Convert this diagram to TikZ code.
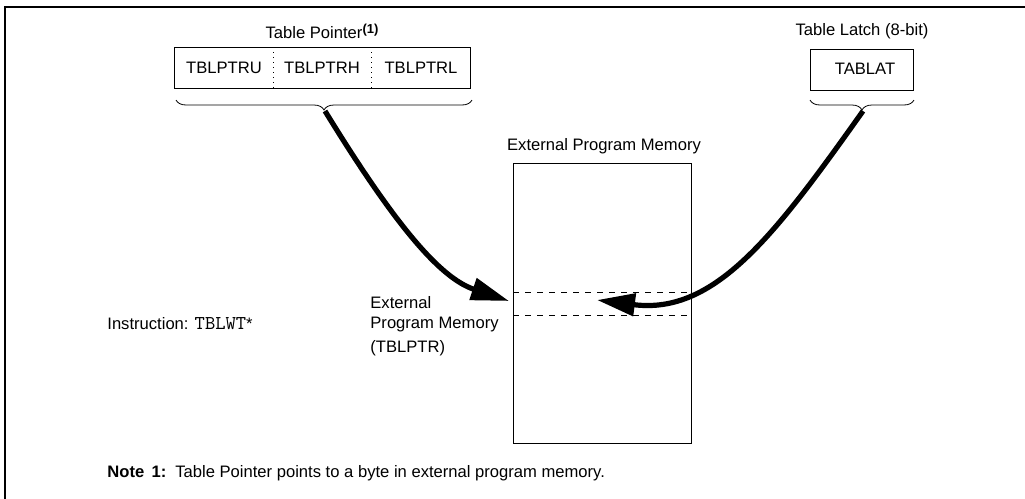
\documentclass[tikz,border=0pt]{standalone}
\usepackage{fontspec}
\setmainfont{Liberation Sans}
\usetikzlibrary{arrows.meta,decorations.pathreplacing}

\tikzset{
  lbl/.style={font=\fontsize{8.3}{10}\selectfont, inner sep=0pt},
  regbox/.style={draw, line width=0.5pt},
  bracebar/.style={decorate, decoration={brace,mirror,amplitude=5pt}, line width=0.4pt},
  flow/.style={line width=2.6pt, -{Triangle[length=19pt,width=11pt]}}
}

\begin{document}
\begin{tikzpicture}[x=0.5pt,y=-0.5pt]
        \useasboundingbox (0,0) rectangle (1025,499);

        % Frame
        \draw[line width=1pt] (5,500) -- (5,7) -- (1026,7);

        % Table pointer
        \node[lbl] (PtrTitle) at (322,31) {Table Pointer\raisebox{0.55ex}{\fontsize{6.5}{7}\selectfont\bfseries (1)}};
        \draw[regbox] (174,47) rectangle (470,88);
        \draw[dotted, line width=0.5pt] (273,47) -- (273,88);
        \draw[dotted, line width=0.5pt] (371,47) -- (371,88);
        \node[lbl] (PtrU) at (224,68) {TBLPTRU};
        \node[lbl] (PtrH) at (322,68) {TBLPTRH};
        \node[lbl] (PtrL) at (421,68) {TBLPTRL};
        \draw[bracebar] (176,100) -- (472,100);
        \coordinate (PtrTip) at (325,111);

        % Table latch
        \node[lbl] (LatchTitle) at (862,31) {Table Latch (8-bit)};
        \draw[regbox] (810,49) rectangle (913,90);
        \node[lbl] (Latch) at (865,69) {TABLAT};
        \draw[bracebar] (810,100) -- (914,100);
        \coordinate (LatchTip) at (863,111);

        % External memory
        \node[lbl] (MemTitle) at (604,146) {External Program Memory};
        \draw[regbox] (513,163) rectangle (691,443);
        \draw[dashed, line width=0.4pt] (513,292) -- (691,292);
        \draw[dashed, line width=0.4pt] (513,315) -- (691,315);
        \coordinate (RowLeft) at (509,301);
        \coordinate (RowIn) at (597,300);

        % Transfers
        \draw[flow] (PtrTip) .. controls (395,225) and (440,278) .. (RowLeft);
        \draw[flow] (LatchTip) .. controls (775,235) and (715,315) .. (RowIn);

        % Labels
        \node[lbl, anchor=west, align=left] (MemAddr) at (370,326) {External\\Program Memory\\[2pt](TBLPTR)};
        \node[lbl, anchor=west] (Instr) at (107,324) {Instruction: {\fontsize{9.8}{10}\selectfont\ttfamily TBLWT}*};
        \node[lbl, anchor=west] (Note) at (107,473) {\textbf{Note\, 1:}\, Table Pointer points to a byte in external program memory.};
    \end{tikzpicture}
\end{document}
